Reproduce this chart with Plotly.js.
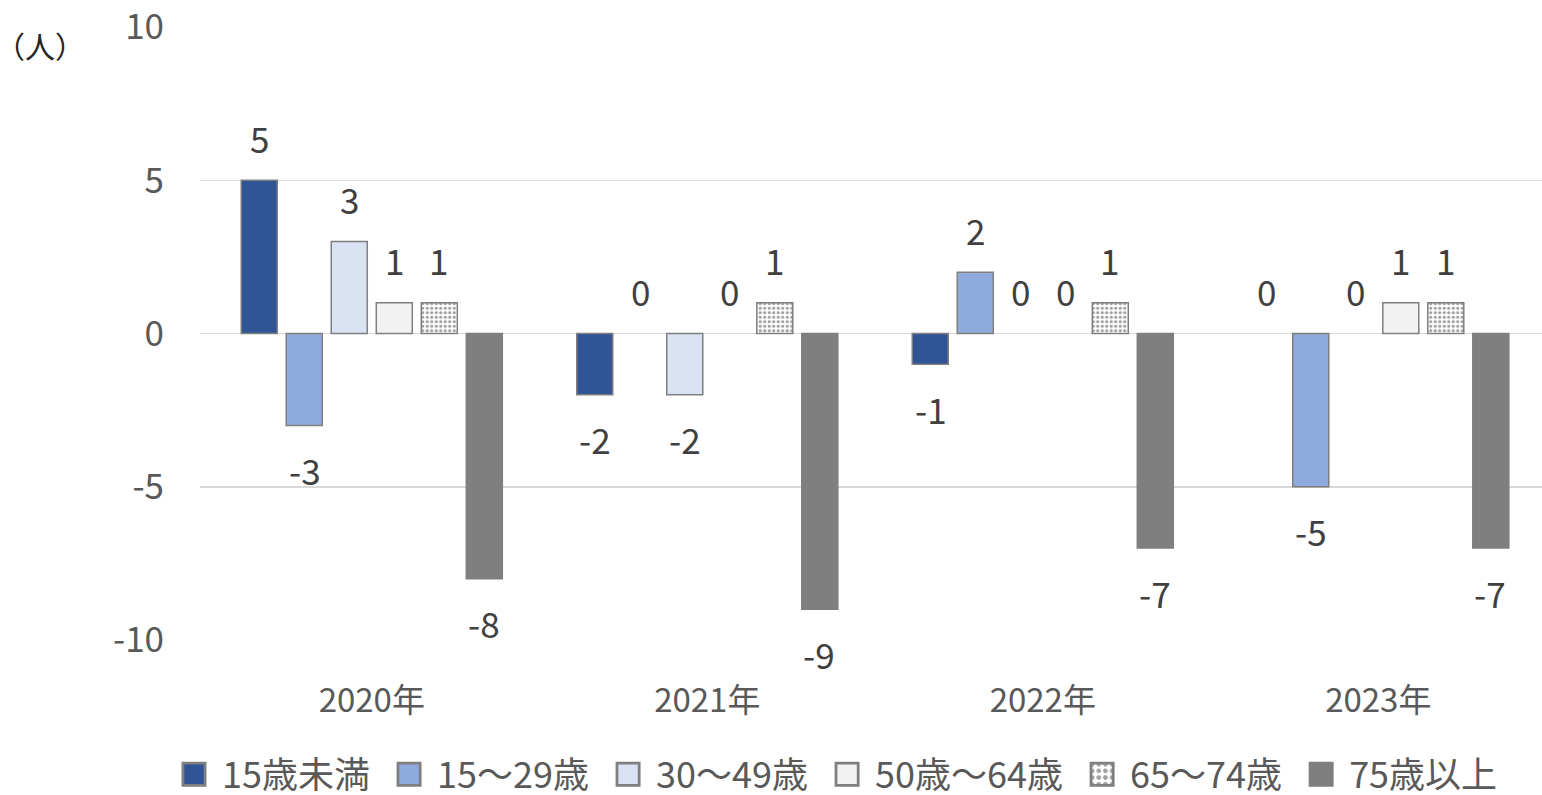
<!DOCTYPE html>
<html><head><meta charset="utf-8">
<script src="https://cdn.plot.ly/plotly-3.0.1.min.js"></script>
<style>html,body{margin:0;padding:0;background:#fff;}#chart{width:1542px;height:795px;}</style>
</head><body><div id="chart"></div>
<script>
const years = ['2020年','2021年','2022年','2023年'];
const seriesNames = ['15歳未満','15～29歳','30～49歳','50歳～64歳','65～74歳','75歳以上'];
const under15 = [5, -2, -1, 0];
const age15to29 = [-3, 0, 2, -5];
const age30to49 = [3, -2, 0, 0];
const age50to64 = [1, 0, 0, 1];
const age65to74 = [1, 1, 1, 1];
const age75plus = [-8, -9, -7, -7];
const yTickVals = [-10, -5, 0, 5, 10];
const yTickText = ['-10', '-5', '0', '5', '10'];

const allValues = [under15, age15to29, age30to49, age50to64, age65to74, age75plus];
const colors = ['#2F5597','#8FAADC','#DAE3F3','#F2F2F2','#FFFFFF','#7F7F7F'];
const font = '"Noto Sans CJK JP", "Noto Sans", sans-serif';
const txt = '#595959';

const traces = allValues.map((vals, i) => {
  const t = {
    type: 'bar', name: seriesNames[i], x: years, y: vals,
    marker: {color: colors[i], line: {color: '#7F7F7F', width: vals.map(v => v === 0 ? 0 : 1.5)}},
    hoverinfo: 'x+y+name'
  };
  if (i === 4) {
    t.marker.pattern = {shape: '.', bgcolor: '#FFFFFF', fgcolor: '#404040', size: 4.5, solidity: 0.4, fillmode: 'overlay'};
  }
  return t;
});

const barStep = 44.8;
const annotations = [];
allValues.forEach((vals, i) => {
  vals.forEach((v, j) => {
    annotations.push({
      x: years[j], y: v, xref: 'x', yref: 'y', text: String(v), showarrow: false,
      xshift: (i - 2.5) * barStep, yshift: v < 0 ? -44 : 43,
      font: {family: font, size: 35, color: '#404040'}
    });
  });
});
annotations.push({x: -0.119, y: 0.971, xref: 'paper', yref: 'paper', xanchor: 'center', yanchor: 'middle',
  text: '（人）', showarrow: false, font: {family: font, size: 30, color: '#262626'}});

const layout = {
  width: 1542, height: 795,
  margin: {l: 200, r: 0, t: 27, b: 155, autoexpand: false},
  paper_bgcolor: '#fff', plot_bgcolor: '#fff',
  barmode: 'group', bargap: 0.195, bargroupgap: 0.2,
  font: {family: font, color: txt},
  xaxis: {type: 'category', range: [-0.512, 3.488], tickfont: {family: font, size: 33, color: txt}, ticks: '', showgrid: false, zeroline: false, showline: false, ticklabelstandoff: 38},
  yaxis: {range: [-10, 10], tickvals: yTickVals, ticktext: yTickText, tickfont: {family: font, size: 35, color: txt}, gridcolor: '#D9D9D9', gridwidth: 1.5,
    zeroline: true, zerolinecolor: '#D9D9D9', zerolinewidth: 1.5, showline: false, ticks: '', ticklabelstandoff: 35, automargin: false, ticklabeloverflow: 'allow'},
  showlegend: true,
  legend: {orientation: 'h', x: 0.5, xref: 'paper', xanchor: 'center', y: 0.026, yref: 'container', yanchor: 'middle',
    font: {family: font, size: 36, color: txt}, itemwidth: 30, tracegroupgap: 0},
  annotations: annotations
};

Plotly.newPlot('chart', traces, layout, {displayModeBar: false, staticPlot: true}).then(gd => {
  // enlarge legend swatches
  document.querySelectorAll('.legendpoints path').forEach(p => {
    const t = p.getAttribute('transform') || '';
    p.setAttribute('transform', t + ' scale(1.85)');
  });
  // nudge legend labels away from swatches
  document.querySelectorAll('.legend .legendtext').forEach(t => {
    t.setAttribute('x', (parseFloat(t.getAttribute('x')) || 0) + 8);
  });
  // respace legend items: gap between a label and the next swatch
  document.querySelectorAll('.legend [clip-path]').forEach(e => e.removeAttribute('clip-path'));
  const items = Array.from(document.querySelectorAll('.legend .traces'));
  const gap = 28, centerX = 840;
  const info = items.map(g => {
    const s = g.querySelector('.legendpoints').getBoundingClientRect();
    const t = g.querySelector('.legendtext').getBoundingClientRect();
    const m = /translate\(\s*([-\d.]+)[ ,]+([-\d.]+)/.exec(g.getAttribute('transform') || 'translate(0,0)');
    return {g, left: s.left, width: t.right - s.left, x0: parseFloat(m[1]), y0: parseFloat(m[2])};
  });
  const total = info.reduce((a, o) => a + o.width, 0) + gap * (info.length - 1);
  let L = centerX - total / 2;
  info.forEach(o => {
    const dx = L - o.left;
    o.g.setAttribute('transform', 'translate(' + (o.x0 + dx) + ',' + o.y0 + ')');
    L += o.width + gap;
  });
});
</script></body></html>
